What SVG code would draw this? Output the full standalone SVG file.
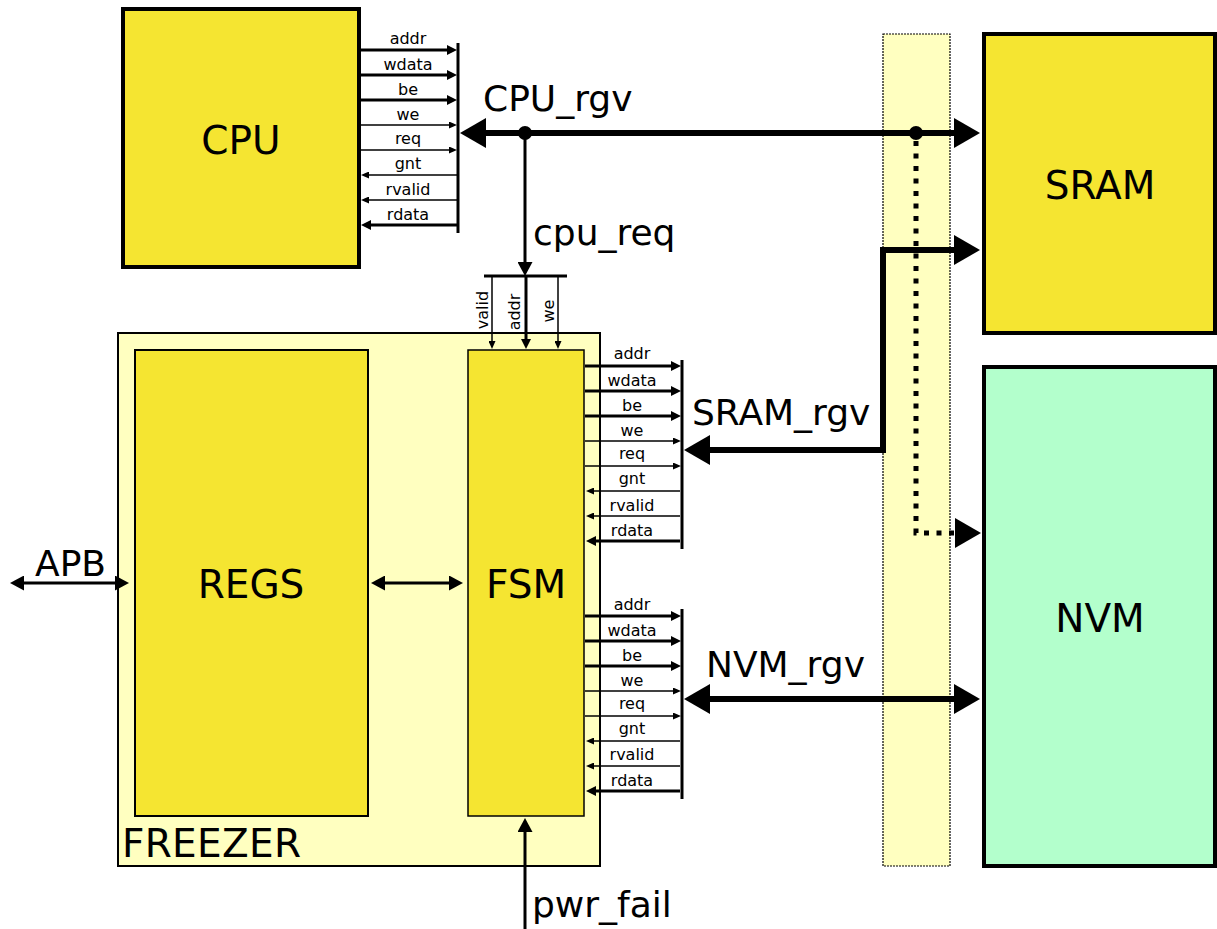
<svg xmlns="http://www.w3.org/2000/svg" width="1217" height="929" viewBox="0 0 1217 929">
<style>
text{font-family:"DejaVu Sans","Liberation Sans",sans-serif;fill:#000}
.big{font-size:39px}
.lbl{font-size:36px}
.sig{font-size:16px;text-anchor:middle}
.box{fill:#f5e531;stroke:#000}
.thick{stroke:#000;stroke-width:3;fill:none}
.thin{stroke:#000;stroke-width:1.5;fill:none}
.bus{stroke:#000;stroke-width:6;fill:none}
.bar{stroke:#000;stroke-width:3}
.m10{marker-end:url(#a10)}
.m8{marker-end:url(#a8)}
</style>
<defs>
<marker id="aBig" markerUnits="userSpaceOnUse" viewBox="0 0 26 30" refX="0" refY="15" markerWidth="26" markerHeight="30" orient="auto-start-reverse"><path d="M0,0 L26,15 L0,30 z" fill="#000"/></marker>
<marker id="aMed" markerUnits="userSpaceOnUse" viewBox="0 0 14 15" refX="0" refY="7.5" markerWidth="14" markerHeight="15" orient="auto-start-reverse"><path d="M0,0 L14,7.5 L0,15 z" fill="#000"/></marker>
<marker id="a10" markerUnits="userSpaceOnUse" viewBox="0 0 10 10" refX="0" refY="5" markerWidth="10" markerHeight="10" orient="auto"><path d="M0,0 L10,5 L0,10 z" fill="#000"/></marker>
<marker id="a8" markerUnits="userSpaceOnUse" viewBox="0 0 8 7" refX="0" refY="3.5" markerWidth="8" markerHeight="7" orient="auto"><path d="M0,0 L8,3.5 L0,7 z" fill="#000"/></marker>
</defs>

<g id="strip">
<rect x="883" y="34" width="67" height="832" fill="#ffffc0" stroke="#000" stroke-width="1.2" stroke-dasharray="2 1"/>
</g>

<g id="CPU">
<rect class="box" x="123" y="9" width="236" height="258" stroke-width="4"/>
<text class="big" x="241" y="154" text-anchor="middle">CPU</text>
</g>

<g id="SRAM">
<rect class="box" x="984" y="34" width="231" height="299" stroke-width="4"/>
<text class="big" x="1100" y="199" text-anchor="middle">SRAM</text>
</g>

<g id="NVM">
<rect x="984" y="367" width="231" height="499" fill="#b3ffcc" stroke="#000" stroke-width="4"/>
<text class="big" x="1100" y="632" text-anchor="middle">NVM</text>
</g>

<g id="FREEZER">
<rect x="118" y="333" width="482" height="533" fill="#ffffc0" stroke="#000" stroke-width="2"/>
<text class="big" x="122" y="857" textLength="179">FREEZER</text>
</g>

<g id="REGS">
<rect class="box" x="135" y="350" width="233" height="466" stroke-width="2"/>
<text class="big" x="251" y="598" text-anchor="middle">REGS</text>
</g>

<g id="FSM">
<rect class="box" x="468" y="350" width="116" height="466" stroke-width="1.5"/>
<text class="big" x="526" y="598" text-anchor="middle">FSM</text>
</g>

<g id="connectors">
<!-- CPU interface -->
<line class="bar" x1="458" y1="43" x2="458" y2="233"/>
<line class="thick m10" x1="361" y1="50" x2="447" y2="50"/>
<line class="thick m10" x1="361" y1="75" x2="447" y2="75"/>
<line class="thick m10" x1="361" y1="100" x2="447" y2="100"/>
<line class="thin m8" x1="361" y1="125" x2="449" y2="125"/>
<line class="thin m8" x1="361" y1="150" x2="449" y2="150"/>
<line class="thin m8" x1="457" y1="175" x2="369" y2="175"/>
<line class="thin m8" x1="457" y1="200" x2="369" y2="200"/>
<line class="thick m10" x1="457" y1="225" x2="371" y2="225"/>

<!-- FSM -> SRAM interface -->
<line class="bar" x1="682" y1="360" x2="682" y2="549"/>
<line class="thick m10" x1="585" y1="366" x2="671" y2="366"/>
<line class="thick m10" x1="585" y1="391" x2="671" y2="391"/>
<line class="thick m10" x1="585" y1="416" x2="671" y2="416"/>
<line class="thin m8" x1="585" y1="441" x2="673" y2="441"/>
<line class="thin m8" x1="585" y1="466" x2="673" y2="466"/>
<line class="thin m8" x1="680" y1="491" x2="594" y2="491"/>
<line class="thin m8" x1="680" y1="516" x2="594" y2="516"/>
<line class="thick m10" x1="680" y1="541" x2="596" y2="541"/>

<!-- FSM -> NVM interface -->
<line class="bar" x1="682" y1="609" x2="682" y2="799"/>
<line class="thick m10" x1="585" y1="616" x2="671" y2="616"/>
<line class="thick m10" x1="585" y1="641" x2="671" y2="641"/>
<line class="thick m10" x1="585" y1="666" x2="671" y2="666"/>
<line class="thin m8" x1="585" y1="691" x2="673" y2="691"/>
<line class="thin m8" x1="585" y1="716" x2="673" y2="716"/>
<line class="thin m8" x1="680" y1="741" x2="594" y2="741"/>
<line class="thin m8" x1="680" y1="766" x2="594" y2="766"/>
<line class="thick m10" x1="680" y1="791" x2="596" y2="791"/>

<!-- buses -->
<path class="bus" d="M486,133 H954" marker-start="url(#aBig)" marker-end="url(#aBig)"/>
<circle cx="525" cy="133" r="7" fill="#000"/>
<circle cx="916" cy="133" r="7" fill="#000"/>
<path class="bus" d="M710,450 H883 V250 H954" marker-start="url(#aBig)" marker-end="url(#aBig)"/>
<path class="bus" d="M710,699 H954" marker-start="url(#aBig)" marker-end="url(#aBig)"/>
<path d="M916,141 V533 H955" fill="none" stroke="#000" stroke-width="5" stroke-dasharray="5 7.5"/>
<path d="M955,518 L981,533 L955,548 z" fill="#000"/>

<!-- cpu_req -->
<path class="thick" d="M525,133 V262" marker-end="url(#aMed)"/>
<line class="bar" x1="484" y1="276" x2="567" y2="276"/>
<line class="thin m8" x1="492" y1="276" x2="492" y2="341"/>
<line class="thick m10" x1="526" y1="276" x2="526" y2="339"/>
<line class="thin m8" x1="558" y1="276" x2="558" y2="341"/>

<!-- REGS <-> FSM, APB, pwr_fail -->
<path class="thick" d="M385,583 H449" marker-start="url(#aMed)" marker-end="url(#aMed)"/>
<path class="thick" d="M24,583 H115" marker-start="url(#aMed)" marker-end="url(#aMed)"/>
<path class="thick" d="M525,929 V832" marker-end="url(#aMed)"/>
</g>

<g id="labels">
<text class="sig" x="408" y="44">addr</text>
<text class="sig" x="408" y="70">wdata</text>
<text class="sig" x="408" y="95">be</text>
<text class="sig" x="408" y="120">we</text>
<text class="sig" x="408" y="144">req</text>
<text class="sig" x="408" y="169">gnt</text>
<text class="sig" x="408" y="195">rvalid</text>
<text class="sig" x="408" y="220">rdata</text>

<text class="sig" x="632" y="359">addr</text>
<text class="sig" x="632" y="386">wdata</text>
<text class="sig" x="632" y="411">be</text>
<text class="sig" x="632" y="436">we</text>
<text class="sig" x="632" y="459">req</text>
<text class="sig" x="632" y="484">gnt</text>
<text class="sig" x="632" y="511">rvalid</text>
<text class="sig" x="632" y="536">rdata</text>

<text class="sig" x="632" y="610">addr</text>
<text class="sig" x="632" y="636">wdata</text>
<text class="sig" x="632" y="661">be</text>
<text class="sig" x="632" y="686">we</text>
<text class="sig" x="632" y="709">req</text>
<text class="sig" x="632" y="734">gnt</text>
<text class="sig" x="632" y="760">rvalid</text>
<text class="sig" x="632" y="786">rdata</text>

<text class="sig" transform="translate(488,310) rotate(-90)">valid</text>
<text class="sig" transform="translate(520,312) rotate(-90)">addr</text>
<text class="sig" transform="translate(554,311) rotate(-90)">we</text>

<text class="lbl" x="483" y="111">CPU_rgv</text>
<text class="lbl" x="533" y="245">cpu_req</text>
<text class="lbl" x="692" y="425">SRAM_rgv</text>
<text class="lbl" x="706" y="677">NVM_rgv</text>
<text class="lbl" x="35" y="576">APB</text>
<text class="lbl" x="532" y="917">pwr_fail</text>
</g>
</svg>
